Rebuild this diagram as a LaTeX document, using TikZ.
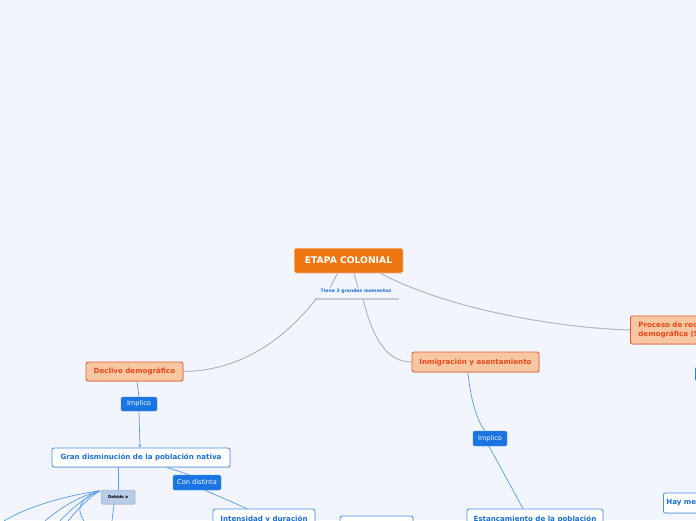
\documentclass[tikz,border=0pt]{standalone}
\usepackage{fontspec}
\setmainfont{DejaVu Sans}
\usetikzlibrary{shadows,calc,arrows.meta}
\definecolor{bgc}{HTML}{F2F5FD}
\definecolor{orangec}{HTML}{EE7612}
\definecolor{peach}{HTML}{F8C6A0}
\definecolor{peachb}{HTML}{EA5A2C}
\definecolor{redt}{HTML}{E8481C}
\definecolor{bluel}{HTML}{1A74E2}
\definecolor{bluet}{HTML}{1C6FD6}
\definecolor{blueb}{HTML}{4A90E2}
\definecolor{conn}{HTML}{5A9AEA}
\definecolor{grayc}{HTML}{B4B6BE}
\definecolor{grayu}{HTML}{C8CAD2}
\definecolor{debf}{HTML}{B9CCE6}
\definecolor{debb}{HTML}{98A8C2}
\tikzset{
  shad/.style={drop shadow={shadow xshift=0.6pt,shadow yshift=-0.9pt,opacity=0.25}},
  centralbox/.style={fill=orangec,draw=white,line width=0.5pt,rounded corners=2pt,shad,text=white,font=\bfseries\fontsize{9.2}{11}\selectfont,inner sep=0pt},
  mainbox/.style={fill=peach,draw=peachb,line width=0.8pt,rounded corners=2pt,shad,text=redt,font=\bfseries\fontsize{7.1}{8.6}\selectfont,inner sep=0pt},
  subbox/.style={fill=white,draw=blueb,line width=0.8pt,rounded corners=2pt,shad,text=bluet,font=\bfseries\fontsize{7.1}{8.6}\selectfont,inner sep=0pt},
  labbox/.style={fill=bluel,draw=bluel!80!white,rounded corners=1.5pt,text=white,font=\fontsize{6.6}{8}\selectfont,inner sep=0pt},
  debbox/.style={fill=debf,draw=debb,line width=0.4pt,rounded corners=1.5pt,shad,text=black,font=\bfseries\fontsize{4}{5}\selectfont,inner sep=0pt},
  grayline/.style={draw=grayc,line width=1pt},
  blueline/.style={draw=conn,line width=0.7pt},
}
\begin{document}
\begin{tikzpicture}[x=1pt,y=-1pt]
\useasboundingbox (0,0) rectangle (696,520);
\fill[bgc] (0,0) rectangle (696,520);
\clip (0,0) rectangle (696,520);

% central
\node[centralbox,minimum width=109pt,minimum height=25pt] (center) at (348.5,260.5) {ETAPA COLONIAL};
\node[text=bluet,font=\bfseries\fontsize{4.6}{6}\selectfont,inner sep=0pt] (tiene) at (356,291) {Tiene 3 grandes momentos};
\coordinate (ulA) at (315,299);
\coordinate (ulB) at (399,299);
\coordinate (ulL) at (316,299);
\coordinate (ulM) at (363,299);

% main topics
\node[mainbox,minimum width=97pt,minimum height=19pt] (declive) at (134.5,371.5) {Declive demográfico};
\node[mainbox,minimum width=127pt,minimum height=20pt] (inmig) at (475.5,362) {Inmigración y asentamiento};
\node[mainbox,minimum width=150pt,minimum height=28pt,align=left,anchor=west,text width=140pt] (proceso) at (630,330) {\hspace*{3pt}Proceso de recuperación\\\hspace*{3pt}demográfica (Siglo XVIII)};

% labels
\node[labbox,minimum width=36pt,minimum height=14pt] (imp1) at (139,404) {Implico};
\node[labbox,minimum width=34pt,minimum height=15pt] (imp2) at (490,438.5) {Implico};
\node[labbox,minimum width=48pt,minimum height=15pt] (condist) at (197,482.5) {Con distinta};
\node[labbox,minimum width=34pt,minimum height=14pt,anchor=west] (imp3) at (695,374) {};

% sub nodes
\node[subbox,minimum width=178pt,minimum height=19pt] (gran) at (141,457.5) {Gran disminución de la población nativa};
\node[subbox,minimum width=102pt,minimum height=20pt] (intens) at (264,519) {Intensidad y duración};
\node[subbox,minimum width=73pt,minimum height=18pt] (empty) at (376.5,525) {};
\node[subbox,minimum width=136pt,minimum height=20pt] (estanc) at (535,519) {Estancamiento de la población};
\node[subbox,minimum width=80pt,minimum height=20pt,anchor=west,align=left,text width=74pt] (hay) at (663,503) {Hay mestizaje};
\node[debbox,minimum width=34pt,minimum height=14pt] (debido) at (118,497) {Debido a};

% gray connectors
\draw[grayline] ($(center.south)+(-11,0)$) -- ($(tiene.north)+(-26,-1)$);
\draw[grayline] ($(center.south)+(5.5,0)$) -- ($(tiene.north)+(2,-1)$);
\draw[draw=grayu,line width=1.4pt] (ulA) -- (ulB);
\draw[grayline] (ulL) .. controls (280,345) and (235,371) .. (declive.east);
\draw[grayline] (ulM) .. controls (372,335) and (385,362) .. (inmig.west);
\draw[grayline] ($(center.south east)+(-23,0)$) .. controls (450,310) and (560,328) .. (proceso.west);

% blue connectors
\draw[blueline] ($(declive.south)+(2.5,0)$) -- ($(imp1.north)+(0,0)$);
\draw[blueline,-{Stealth[length=3.5pt,width=3pt]}] (imp1.south) -- ($(gran.north)+(-1,0)$);
\draw[blueline] ($(gran.south)+(26,0)$) -- ($(condist.north)+(-8,0)$);
\draw[blueline] ($(condist.south)+(8,0)$) -- ($(intens.north)+(-17,0)$);
\draw[blueline] ($(gran.south)+(-23,0)$) -- ($(debido.north)+(0,0)$);
\draw[blueline] ($(inmig.south)+(-7.5,0)$) .. controls (470,395) and (476,420) .. ($(imp2.north)+(-5,0)$);
\draw[blueline] ($(imp2.south)+(-1,0)$) -- ($(estanc.north)+(-12,0)$);

% Debido a branches (off to bottom-left)
\coordinate (dA) at ($(debido.north west)+(-1,1)$);
\coordinate (e1) at (4,521);
\coordinate (e2) at (45,521);
\coordinate (e3) at (60,521);
\coordinate (e4) at (68,521);
\coordinate (e5) at (84,521);
\coordinate (e6) at (112,521);
\draw[blueline] (dA) .. controls (70,495) and (30,505) .. (e1);
\draw[blueline] (dA) .. controls (80,496) and (60,508) .. (e2);
\draw[blueline] (dA) .. controls (85,497) and (70,510) .. (e3);
\draw[blueline] (dA) .. controls (88,498) and (75,512) .. (e4);
\draw[blueline] (dA) .. controls (75,500) and (78,512) .. (e5);
\draw[blueline] ($(debido.south)+(-4,0)$) -- (e6);
\end{tikzpicture}
\end{document}
